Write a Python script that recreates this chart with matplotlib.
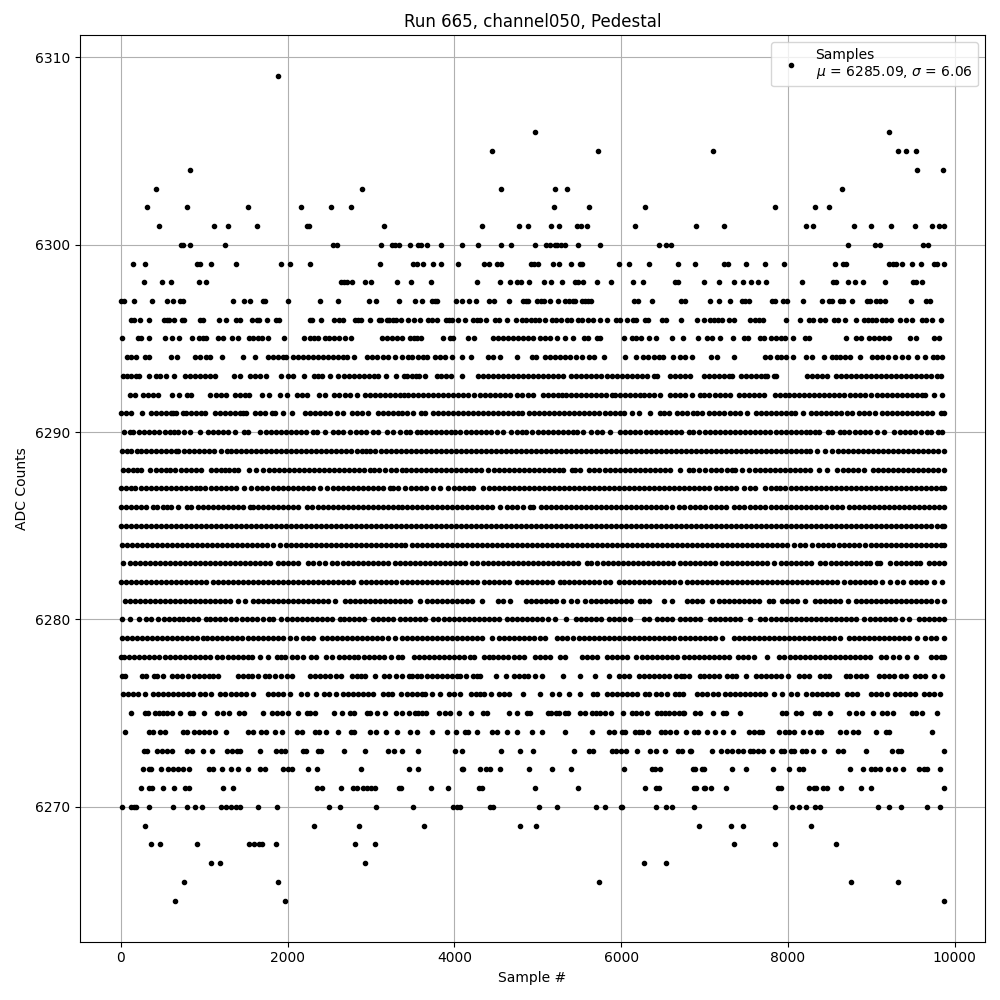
import matplotlib
matplotlib.use('Agg')
import matplotlib.pyplot as plt

# Sample numbers, one list per ADC level.
# Where dots merge into a solid stretch they can't be told apart, so those
# values are estimates placed about every 60 samples along the stretch.
x_6309 = [1888]
x_6306 = [4972, 9208]
x_6305 = [4456, 5728, 7096, 9316, 9412, 9532]
x_6304 = [832, 9544, 9856]
x_6303 = [424, 2896, 4564, 5212, 5356, 8644]
x_6302 = [316, 796, 1528, 2164, 2524, 2764, 5200, 5620, 6280, 7840, 8320, 8488]
x_6301 = [460, 1120, 1288, 1636, 2228, 2260, 3160, 4336, 4780, 4888, 5164, 5260, 5476, 5524, 5596, 6160, 6892, 7228,
          8212, 8296, 8788, 8992, 9232, 9520, 9724, 9808, 9868]
x_6300 = [724, 748, 832, 1252, 2548, 2588, 3124, 3248, 3288, 3340, 3472, 3568, 3596, 3676, 3844, 4096, 4288, 4564,
          4684, 4972, 5104, 5148, 5212, 5236, 5284, 5332, 5488, 5752, 6448, 6532, 6592, 8716, 9040, 9100, 9616, 9676]
x_6299 = [148, 292, 916, 948, 1084, 1384, 1924, 2032, 2272, 3112, 3508, 3556, 3628, 3748, 3844, 4048, 4360, 4420,
          4516, 4564, 4924, 4960, 5008, 5188, 5260, 5404, 5512, 5536, 5968, 6088, 6328, 6676, 6880, 7228, 7276, 7492,
          7720, 7948, 8560, 8656, 8692, 9208, 9256, 9292, 9364, 9484, 9592, 9748, 9784, 9868]
x_6298 = [280, 496, 604, 940, 1024, 2644, 2680, 2716, 2776, 2932, 3004, 3316, 3484, 3724, 4276, 4552, 4672, 4756,
          4804, 4900, 5080, 5164, 5296, 5452, 5488, 5548, 5716, 5872, 6136, 6256, 6640, 6676, 6988, 7168, 7348, 7456,
          7552, 7636, 7732, 8164, 8536, 8572, 8716, 8800, 8896, 9160, 9496, 9532, 9604]
x_6297 = [8, 44, 160, 376, 556, 628, 712, 748, 1348, 1480, 1552, 1708, 1736, 2008, 2392, 2608, 2980, 3064, 3340,
          3532, 3616, 3736, 3772, 3796, 4024, 4096, 4180, 4264, 4420, 4480, 4660, 4828, 4864, 4888, 4996, 5044, 5080,
          5152, 5248, 5332, 5380, 5428, 5452, 5536, 5572, 5608, 5644, 6148, 6196, 6364, 6712, 6760, 7060, 7168, 7300,
          7444, 7480, 7528, 7804, 7840, 7936, 7984, 8176, 8404, 8488, 8524, 8620, 8656, 8764, 8944, 8980, 9052, 9100,
          9160, 9472, 9652, 9700]
x_6296 = [128, 156, 232, 340, 520, 556, 580, 640, 736, 756, 952, 988, 1180, 1264, 1384, 1432, 1576, 1636, 1660, 1756,
          1864, 1900, 2272, 2296, 2404, 2560, 2620, 2668, 2812, 2848, 2884, 2992, 3100, 3124, 3196, 3220, 3268, 3300,
          3364, 3448, 3520, 3592, 3688, 3736, 3796, 3904, 3940, 3976, 4048, 4132, 4228, 4276, 4312, 4384, 4492, 4540,
          4636, 4744, 4816, 4864, 4924, 4972, 5020, 5092, 5176, 5224, 5284, 5356, 5404, 5488, 5536, 5608, 5668, 5752,
          5828, 5932, 5980, 6064, 6136, 6172, 6280, 6316, 6484, 6532, 6712, 6904, 6988, 7060, 7108, 7156, 7204, 7288,
          7348, 7540, 7600, 7648, 7696, 7972, 8140, 8248, 8296, 8380, 8440, 8548, 8596, 8680, 8812, 8908, 8956, 9004,
          9052, 9124, 9172, 9232, 9340, 9412, 9484, 9604, 9652, 9724, 9832]
x_6295 = [16, 212, 248, 340, 532, 616, 700, 860, 940, 988, 1028, 1168, 1228, 1336, 1408, 1540, 1588, 1648, 1696, 1768,
          1960, 2200, 2268, 2316, 2368, 2448, 2500, 2556, 2620, 2692, 2756, 3128, 3188, 3248, 3308, 3376, 3468, 3520,
          3556, 3604, 3868, 3948, 3988, 4168, 4240, 4468, 4528, 4588, 4648, 4708, 4768, 4828, 4888, 4940, 5028, 5088,
          5148, 5228, 5332, 5428, 5560, 5608, 5708, 5748, 6028, 6128, 6180, 6236, 6328, 6412, 6604, 6736, 6916, 7028,
          7084, 7188, 7336, 7468, 7520, 7660, 7708, 7796, 7856, 7916, 7968, 8056, 8200, 8248, 8692, 8820, 8876, 8968,
          9028, 9088, 9148, 9208, 9460, 9532, 9748, 9808]
x_6294 = [76, 128, 188, 288, 340, 604, 680, 896, 956, 1028, 1068, 1216, 1468, 1612, 1768, 1828, 1888, 1948, 1980,
          2068, 2128, 2188, 2248, 2308, 2368, 2428, 2488, 2548, 2608, 2668, 2716, 2800, 2948, 3008, 3068, 3148, 3208,
          3292, 3376, 3448, 3496, 3568, 3628, 3668, 3772, 3828, 3888, 3976, 4096, 4204, 4408, 4468, 4548, 4756, 4936,
          4984, 5092, 5148, 5208, 5268, 5328, 5388, 5460, 5528, 5620, 5680, 5796, 6048, 6172, 6256, 6316, 6388, 6448,
          6496, 6616, 6708, 6768, 6852, 7072, 7148, 7348, 7720, 7780, 7868, 7920, 7972, 8056, 8212, 8284, 8428, 8524,
          8572, 8628, 8688, 8748, 8860, 9004, 9068, 9132, 9196, 9280, 9364, 9436, 9548, 9648, 9736, 9788, 9840]
x_6293 = [28, 76, 128, 188, 220, 340, 424, 476, 548, 636, 772, 832, 892, 952, 1012, 1072, 1132, 1360, 1432, 1552, 1612,
          1672, 1748, 1924, 2008, 2068, 2200, 2320, 2368, 2416, 2512, 2608, 2680, 2740, 2800, 2860, 2920, 2980, 3040,
          3088, 3184, 3304, 3400, 3436, 3488, 3536, 3580, 3652, 3788, 3836, 3896, 3956, 4096, 4288, 4348, 4408, 4468,
          4528, 4588, 4648, 4708, 4768, 4828, 4888, 4948, 5008, 5068, 5128, 5188, 5248, 5308, 5404, 5464, 5524, 5584,
          5644, 5704, 5764, 5824, 5884, 5944, 6004, 6064, 6124, 6184, 6244, 6304, 6396, 6428, 6580, 6640, 6700, 6760,
          6820, 6988, 7048, 7108, 7168, 7228, 7288, 7328, 7440, 7500, 7560, 7620, 7680, 7728, 7748, 7828, 7860, 8228,
          8288, 8348, 8408, 8468, 8580, 8640, 8700, 8760, 8820, 8880, 8940, 9000, 9060, 9120, 9180, 9240, 9300, 9360,
          9420, 9480, 9540, 9600, 9660, 9720, 9780, 9828]
x_6292 = [116, 168, 268, 328, 388, 448, 616, 700, 796, 848, 1068, 1148, 1208, 1268, 1368, 1428, 1488, 1540, 1692, 1780,
          1912, 1996, 2108, 2168, 2228, 2380, 2448, 2556, 2620, 2688, 2748, 2828, 2928, 2988, 3048, 3108, 3168, 3228,
          3288, 3348, 3400, 3448, 3508, 3568, 3628, 3688, 3748, 3808, 3868, 3928, 3988, 4048, 4108, 4168, 4236, 4308,
          4368, 4428, 4488, 4548, 4608, 4668, 4748, 4808, 4880, 4948, 5060, 5120, 5180, 5240, 5296, 5336, 5396, 5456,
          5516, 5576, 5636, 5696, 5756, 5816, 5888, 5928, 5988, 6048, 6108, 6168, 6228, 6268, 6328, 6388, 6468, 6588,
          6648, 6708, 6768, 6848, 6948, 6988, 7048, 7128, 7188, 7248, 7300, 7408, 7468, 7528, 7588, 7648, 7708, 7848,
          7908, 7968, 8008, 8068, 8128, 8188, 8248, 8308, 8368, 8428, 8488, 8548, 8608, 8668, 8748, 8808, 8868, 8928,
          8996, 9068, 9128, 9188, 9248, 9308, 9368, 9428, 9488, 9548, 9608, 9648, 9748, 9840]
x_6291 = [8, 68, 128, 252, 360, 420, 480, 540, 600, 628, 668, 748, 788, 848, 908, 968, 1008, 1128, 1188, 1248, 1308,
          1368, 1428, 1468, 1500, 1608, 1668, 1728, 1808, 1848, 1940, 2056, 2208, 2268, 2328, 2388, 2448, 2508, 2588,
          2660, 2768, 2828, 2888, 2968, 3088, 3148, 3208, 3268, 3328, 3368, 3428, 3508, 3596, 3652, 3748, 3808, 3868,
          3928, 3988, 4048, 4108, 4168, 4228, 4288, 4348, 4408, 4468, 4528, 4588, 4648, 4708, 4768, 4808, 4900, 4960,
          5020, 5080, 5140, 5200, 5260, 5320, 5380, 5440, 5500, 5560, 5620, 5680, 5740, 5800, 5860, 5920, 5980, 6028,
          6128, 6208, 6348, 6460, 6508, 6576, 6668, 6728, 6788, 6860, 6908, 6968, 7048, 7108, 7168, 7228, 7308, 7368,
          7428, 7508, 7620, 7680, 7740, 7800, 7860, 7920, 7980, 8040, 8088, 8176, 8276, 8336, 8396, 8456, 8516, 8576,
          8636, 8708, 8764, 8848, 8908, 8968, 9048, 9132, 9192, 9252, 9312, 9372, 9432, 9492, 9552, 9612, 9672, 9728,
          9828, 9868]
x_6290 = [40, 108, 148, 220, 280, 340, 400, 460, 528, 588, 640, 688, 756, 828, 956, 1048, 1108, 1168, 1228, 1288, 1368,
          1480, 1528, 1668, 1740, 1800, 1860, 1920, 1980, 2040, 2100, 2160, 2220, 2308, 2356, 2448, 2540, 2600, 2668,
          2748, 2820, 2880, 2940, 3028, 3088, 3188, 3268, 3348, 3420, 3468, 3548, 3600, 3660, 3720, 3780, 3840, 3900,
          3960, 4008, 4068, 4140, 4200, 4260, 4320, 4380, 4440, 4508, 4580, 4680, 4748, 4808, 4860, 4936, 5000, 5060,
          5120, 5180, 5240, 5300, 5360, 5420, 5468, 5548, 5640, 5708, 5768, 5868, 5988, 6048, 6108, 6168, 6228, 6300,
          6360, 6420, 6480, 6540, 6600, 6660, 6720, 6808, 6860, 6928, 7000, 7060, 7120, 7180, 7240, 7300, 7360, 7420,
          7480, 7540, 7600, 7668, 7728, 7788, 7860, 7920, 7980, 8040, 8100, 8160, 8220, 8268, 8328, 8368, 8476, 8528,
          8628, 8668, 8728, 8800, 8860, 8920, 8988, 9068, 9148, 9268, 9340, 9408, 9460, 9528, 9600, 9668, 9716, 9796, 9848]
x_6289 = [16, 76, 128, 196, 240, 300, 360, 420, 480, 540, 600, 660, 688, 756, 820, 880, 940, 1000, 1060, 1120, 1208,
          1276, 1320, 1380, 1440, 1500, 1560, 1620, 1680, 1740, 1800, 1860, 1920, 1980, 2040, 2100, 2160, 2220, 2280,
          2340, 2400, 2460, 2520, 2580, 2640, 2700, 2760, 2828, 2888, 2940, 2988, 3048, 3120, 3180, 3240, 3300, 3360,
          3420, 3480, 3540, 3600, 3660, 3720, 3780, 3840, 3900, 3960, 4020, 4080, 4140, 4200, 4260, 4320, 4380, 4440,
          4500, 4560, 4620, 4680, 4740, 4800, 4860, 4920, 4980, 5040, 5100, 5160, 5220, 5280, 5340, 5400, 5460, 5520,
          5580, 5640, 5700, 5760, 5820, 5880, 5940, 6000, 6060, 6120, 6180, 6240, 6300, 6360, 6420, 6480, 6540, 6600,
          6660, 6720, 6780, 6840, 6900, 6960, 7020, 7080, 7140, 7200, 7260, 7320, 7380, 7440, 7500, 7560, 7620, 7680,
          7740, 7800, 7860, 7920, 7980, 8040, 8100, 8160, 8220, 8268, 8348, 8448, 8528, 8596, 8660, 8720, 8780, 8840,
          8900, 8960, 9020, 9080, 9140, 9200, 9260, 9320, 9380, 9440, 9500, 9560, 9620, 9680, 9740, 9800, 9868]
x_6288 = [28, 88, 148, 200, 248, 356, 420, 480, 540, 588, 648, 720, 780, 840, 900, 968, 1088, 1140, 1200, 1248, 1300,
          1360, 1408, 1540, 1628, 1708, 1780, 1840, 1900, 1960, 2020, 2080, 2140, 2200, 2260, 2320, 2380, 2440, 2500,
          2560, 2620, 2680, 2740, 2800, 2860, 2920, 2988, 3036, 3100, 3168, 3240, 3300, 3368, 3420, 3480, 3540, 3600,
          3660, 3720, 3780, 3840, 3900, 3960, 4020, 4080, 4140, 4200, 4260, 4320, 4408, 4480, 4540, 4600, 4660, 4720,
          4780, 4840, 4900, 4960, 5020, 5080, 5140, 5200, 5260, 5308, 5408, 5448, 5512, 5620, 5680, 5740, 5800, 5860,
          5920, 5980, 6040, 6100, 6160, 6220, 6280, 6340, 6400, 6460, 6520, 6580, 6700, 6808, 6860, 6928, 7008, 7080,
          7140, 7200, 7268, 7328, 7368, 7448, 7528, 7600, 7660, 7720, 7780, 7840, 7900, 7960, 8020, 8080, 8140, 8200,
          8268, 8368, 8468, 8588, 8660, 8720, 8780, 8840, 8908, 9016, 9080, 9140, 9200, 9260, 9320, 9380, 9440, 9500,
          9560, 9620, 9680, 9740, 9800, 9868]
x_6287 = [8, 68, 128, 168, 240, 300, 360, 420, 480, 540, 600, 660, 720, 780, 840, 900, 948, 1008, 1080, 1140, 1200,
          1260, 1320, 1380, 1480, 1568, 1640, 1700, 1760, 1820, 1880, 1940, 2000, 2060, 2120, 2180, 2240, 2300, 2388,
          2476, 2540, 2600, 2660, 2720, 2780, 2840, 2900, 2960, 3020, 3080, 3140, 3228, 3268, 3328, 3408, 3480, 3540,
          3600, 3660, 3748, 3828, 3928, 3990, 4050, 4110, 4170, 4228, 4348, 4410, 4470, 4530, 4590, 4650, 4710, 4770,
          4830, 4890, 4950, 5010, 5070, 5130, 5190, 5250, 5310, 5370, 5430, 5490, 5550, 5610, 5670, 5730, 5790, 5850,
          5910, 5970, 6030, 6090, 6150, 6210, 6270, 6330, 6390, 6450, 6510, 6570, 6630, 6690, 6750, 6810, 6870, 6930,
          6990, 7048, 7140, 7200, 7260, 7320, 7380, 7468, 7540, 7608, 7728, 7790, 7850, 7908, 7968, 8030, 8090, 8150,
          8210, 8270, 8330, 8390, 8450, 8510, 8570, 8630, 8690, 8750, 8810, 8870, 8930, 8990, 9050, 9110, 9170, 9230,
          9290, 9350, 9410, 9470, 9530, 9590, 9650, 9710, 9770, 9830, 9868]
x_6286 = [8, 68, 128, 188, 248, 308, 388, 436, 508, 560, 608, 688, 796, 848, 928, 990, 1050, 1110, 1170, 1230, 1290,
          1350, 1410, 1470, 1548, 1588, 1650, 1710, 1770, 1830, 1890, 1950, 2010, 2070, 2130, 2228, 2296, 2360, 2420,
          2480, 2540, 2600, 2660, 2720, 2780, 2840, 2900, 2960, 3020, 3080, 3140, 3200, 3260, 3320, 3368, 3430, 3490,
          3550, 3610, 3670, 3730, 3790, 3850, 3910, 3970, 4030, 4090, 4150, 4210, 4270, 4330, 4390, 4450, 4548, 4628,
          4690, 4750, 4828, 4908, 4948, 5036, 5100, 5160, 5220, 5280, 5340, 5400, 5460, 5520, 5580, 5640, 5700, 5760,
          5820, 5880, 5940, 6000, 6060, 6120, 6180, 6240, 6300, 6360, 6420, 6480, 6540, 6608, 6688, 6748, 6828, 6890,
          6950, 7008, 7080, 7140, 7200, 7260, 7348, 7408, 7468, 7548, 7610, 7670, 7730, 7790, 7850, 7910, 7970, 8030,
          8090, 8150, 8210, 8270, 8330, 8390, 8450, 8528, 8588, 8650, 8728, 8788, 8850, 8910, 8970, 9030, 9090, 9150,
          9210, 9270, 9330, 9390, 9450, 9510, 9570, 9630, 9690, 9750, 9810, 9868]
x_6285 = [0, 60, 120, 180, 240, 300, 360, 420, 480, 540, 600, 660, 720, 780, 840, 900, 960, 1020, 1080, 1140, 1200,
          1260, 1320, 1380, 1440, 1500, 1560, 1620, 1680, 1740, 1800, 1860, 1920, 1980, 2040, 2100, 2160, 2220, 2280,
          2340, 2400, 2460, 2520, 2580, 2640, 2700, 2760, 2820, 2880, 2940, 3000, 3060, 3120, 3180, 3240, 3300, 3360,
          3420, 3480, 3540, 3600, 3660, 3720, 3780, 3840, 3900, 3960, 4020, 4080, 4140, 4200, 4260, 4320, 4380, 4440,
          4500, 4560, 4620, 4680, 4740, 4800, 4860, 4920, 4980, 5040, 5100, 5160, 5220, 5280, 5340, 5400, 5460, 5520,
          5580, 5640, 5700, 5760, 5820, 5880, 5940, 6000, 6060, 6120, 6180, 6240, 6300, 6360, 6420, 6480, 6540, 6600,
          6660, 6720, 6780, 6840, 6900, 6960, 7020, 7080, 7140, 7200, 7260, 7320, 7380, 7440, 7500, 7560, 7620, 7680,
          7740, 7800, 7860, 7920, 7980, 8040, 8100, 8160, 8220, 8280, 8340, 8400, 8460, 8520, 8580, 8640, 8700, 8760,
          8820, 8880, 8940, 9000, 9060, 9120, 9180, 9240, 9300, 9360, 9420, 9480, 9540, 9600, 9660, 9720, 9780, 9840, 9868]
x_6284 = [16, 76, 136, 196, 256, 316, 376, 436, 496, 556, 616, 676, 736, 796, 856, 916, 976, 1036, 1096, 1156, 1216,
          1276, 1336, 1396, 1456, 1516, 1576, 1636, 1696, 1756, 1828, 1908, 1980, 2040, 2100, 2160, 2220, 2280, 2340,
          2400, 2460, 2520, 2580, 2640, 2700, 2760, 2820, 2880, 2940, 3000, 3060, 3120, 3180, 3240, 3300, 3360, 3408,
          3488, 3550, 3610, 3670, 3730, 3790, 3850, 3910, 3970, 4030, 4090, 4150, 4210, 4270, 4330, 4390, 4450, 4510,
          4570, 4630, 4690, 4750, 4810, 4870, 4930, 4990, 5050, 5110, 5170, 5230, 5290, 5350, 5410, 5470, 5530, 5590,
          5650, 5710, 5770, 5830, 5890, 5950, 6010, 6070, 6130, 6190, 6250, 6310, 6370, 6430, 6490, 6550, 6610, 6670,
          6730, 6790, 6850, 6910, 6970, 7030, 7090, 7150, 7210, 7270, 7330, 7390, 7450, 7510, 7570, 7630, 7690, 7750,
          7810, 7870, 7930, 7990, 8068, 8140, 8200, 8288, 8356, 8420, 8480, 8540, 8608, 8676, 8728, 8788, 8848, 8928,
          8990, 9050, 9110, 9170, 9230, 9290, 9350, 9410, 9470, 9530, 9590, 9650, 9710, 9770, 9830, 9868]
x_6283 = [28, 108, 170, 230, 290, 350, 410, 470, 530, 590, 650, 710, 770, 830, 890, 950, 1010, 1070, 1130, 1190, 1250,
          1310, 1370, 1430, 1490, 1550, 1610, 1670, 1730, 1790, 1888, 1948, 2010, 2070, 2130, 2248, 2308, 2380, 2450,
          2528, 2596, 2660, 2720, 2780, 2840, 2900, 2960, 3020, 3080, 3140, 3200, 3288, 3348, 3410, 3470, 3530, 3590,
          3650, 3708, 3768, 3830, 3890, 3950, 4010, 4070, 4130, 4208, 4276, 4340, 4400, 4460, 4520, 4580, 4640, 4700,
          4760, 4820, 4880, 4940, 5000, 5060, 5120, 5180, 5240, 5300, 5360, 5420, 5488, 5596, 5636, 5716, 5780, 5840,
          5900, 5960, 6020, 6080, 6140, 6200, 6260, 6320, 6380, 6440, 6500, 6560, 6620, 6708, 6770, 6830, 6890, 6950,
          7010, 7070, 7130, 7208, 7268, 7330, 7390, 7450, 7510, 7570, 7630, 7690, 7750, 7828, 7916, 7980, 8040, 8100,
          8160, 8220, 8280, 8388, 8448, 8510, 8570, 8630, 8690, 8750, 8810, 8870, 8930, 8988, 9068, 9108, 9228, 9300,
          9360, 9420, 9480, 9540, 9588, 9688, 9750, 9810, 9868]
x_6282 = [8, 68, 128, 188, 248, 308, 368, 428, 488, 548, 608, 668, 728, 788, 848, 908, 968, 1028, 1108, 1170, 1230,
          1290, 1350, 1410, 1470, 1530, 1590, 1650, 1710, 1770, 1830, 1890, 1950, 2010, 2070, 2130, 2190, 2250, 2310,
          2370, 2430, 2490, 2550, 2610, 2670, 2730, 2788, 2876, 2940, 3000, 3060, 3120, 3180, 3240, 3300, 3368, 3430,
          3490, 3550, 3610, 3670, 3730, 3790, 3850, 3910, 3970, 4030, 4090, 4150, 4210, 4268, 4360, 4420, 4480, 4540,
          4600, 4660, 4748, 4808, 4870, 4930, 4990, 5050, 5110, 5170, 5268, 5316, 5380, 5440, 5500, 5560, 5620, 5680,
          5740, 5800, 5868, 5968, 6030, 6090, 6150, 6210, 6270, 6330, 6390, 6450, 6510, 6570, 6630, 6708, 6788, 6848,
          6910, 6970, 7030, 7090, 7150, 7210, 7270, 7330, 7390, 7450, 7510, 7570, 7630, 7690, 7750, 7810, 7870, 7930,
          7990, 8050, 8110, 8170, 8230, 8290, 8350, 8410, 8470, 8530, 8590, 8668, 8740, 8800, 8860, 8920, 8980, 9040,
          9128, 9220, 9308, 9380, 9476, 9540, 9600, 9660, 9748, 9848]
x_6281 = [48, 110, 170, 230, 290, 350, 410, 470, 530, 590, 650, 710, 770, 830, 890, 950, 1010, 1070, 1130, 1190, 1250,
          1310, 1408, 1492, 1588, 1650, 1710, 1770, 1830, 1890, 1950, 2010, 2070, 2130, 2190, 2250, 2310, 2370, 2430,
          2490, 2568, 2688, 2750, 2810, 2870, 2930, 2990, 3050, 3110, 3170, 3230, 3290, 3348, 3410, 3470, 3588, 3668,
          3730, 3790, 3850, 3910, 3970, 4030, 4090, 4150, 4210, 4328, 4528, 4588, 4672, 4860, 4920, 4980, 5040, 5100,
          5160, 5220, 5308, 5404, 5470, 5568, 5636, 5700, 5760, 5820, 5880, 5940, 6000, 6060, 6120, 6228, 6268, 6328,
          6508, 6608, 6788, 6850, 6910, 6970, 7088, 7168, 7230, 7290, 7350, 7410, 7470, 7530, 7590, 7650, 7768, 7820,
          7928, 7988, 8050, 8110, 8208, 8320, 8380, 8440, 8500, 8560, 8628, 8716, 8820, 8880, 8940, 9000, 9060, 9120,
          9180, 9240, 9300, 9360, 9420, 9480, 9540, 9600, 9660, 9720, 9780, 9868]
x_6280 = [20, 108, 220, 300, 360, 448, 516, 580, 640, 700, 748, 808, 870, 930, 1028, 1068, 1128, 1190, 1250, 1328, 1388,
          1450, 1510, 1570, 1630, 1708, 1780, 1828, 1924, 1990, 2050, 2110, 2170, 2230, 2290, 2350, 2410, 2470, 2530,
          2628, 2680, 2740, 2800, 2860, 2920, 3028, 3088, 3150, 3210, 3270, 3348, 3410, 3470, 3530, 3590, 3650, 3748,
          3808, 3870, 3930, 3990, 4050, 4110, 4170, 4230, 4290, 4350, 4410, 4470, 4530, 4628, 4688, 4750, 4810, 4870,
          4930, 4990, 5050, 5128, 5212, 5344, 5460, 5520, 5580, 5640, 5700, 5760, 5848, 5908, 5970, 6030, 6108, 6268,
          6328, 6428, 6490, 6550, 6610, 6708, 6770, 6830, 6890, 6950, 7068, 7128, 7190, 7250, 7310, 7370, 7430, 7548,
          7668, 7730, 7790, 7850, 7910, 7970, 8030, 8090, 8150, 8210, 8270, 8330, 8390, 8450, 8510, 8570, 8630, 8690,
          8750, 8810, 8908, 8980, 9040, 9100, 9160, 9220, 9280, 9368, 9448, 9568, 9630, 9690, 9750, 9808, 9868]
x_6279 = [16, 80, 140, 200, 260, 320, 380, 440, 500, 560, 620, 680, 740, 800, 860, 920, 988, 1036, 1100, 1160, 1220,
          1280, 1340, 1400, 1460, 1528, 1588, 1650, 1710, 1770, 1830, 1890, 1950, 2028, 2100, 2188, 2250, 2310, 2408,
          2468, 2530, 2590, 2650, 2710, 2770, 2830, 2890, 2950, 3010, 3070, 3128, 3208, 3288, 3368, 3430, 3490, 3550,
          3610, 3670, 3730, 3790, 3850, 3910, 3970, 4030, 4090, 4150, 4210, 4270, 4330, 4448, 4540, 4600, 4660, 4720,
          4780, 4840, 4900, 4960, 5028, 5092, 5228, 5288, 5348, 5428, 5490, 5550, 5610, 5670, 5730, 5790, 5850, 5910,
          5970, 6030, 6090, 6150, 6210, 6270, 6330, 6390, 6450, 6510, 6570, 6630, 6708, 6770, 6830, 6890, 6950, 7010,
          7070, 7130, 7208, 7348, 7410, 7470, 7530, 7590, 7650, 7710, 7770, 7830, 7890, 7950, 8010, 8070, 8130, 8190,
          8250, 8310, 8370, 8430, 8490, 8550, 8628, 8728, 8790, 8850, 8910, 8970, 9030, 9090, 9150, 9210, 9270, 9330,
          9390, 9450, 9548, 9648, 9710, 9770, 9868]
x_6278 = [4, 40, 100, 160, 220, 280, 340, 400, 460, 532, 592, 652, 712, 772, 832, 892, 952, 1012, 1072, 1156, 1216,
          1288, 1348, 1408, 1468, 1528, 1576, 1672, 1768, 1876, 1924, 1972, 2056, 2116, 2188, 2284, 2344, 2464, 2536,
          2620, 2680, 2740, 2800, 2848, 2920, 2980, 3040, 3100, 3160, 3244, 3328, 3376, 3520, 3580, 3640, 3700, 3760,
          3820, 3880, 3940, 4000, 4060, 4120, 4192, 4240, 4360, 4420, 4468, 4528, 4588, 4648, 4720, 4780, 4840, 4972,
          5032, 5092, 5152, 5272, 5332, 5536, 5596, 5656, 5716, 5824, 5884, 5944, 6004, 6064, 6172, 6244, 6304, 6364,
          6424, 6484, 6544, 6604, 6664, 6748, 6808, 6868, 6928, 6988, 7048, 7108, 7168, 7228, 7288, 7396, 7456, 7516,
          7588, 7744, 7888, 7948, 8020, 8080, 8140, 8200, 8260, 8320, 8380, 8440, 8500, 8560, 8620, 8680, 8740, 8800,
          8860, 8920, 8980, 9112, 9172, 9256, 9328, 9424, 9532, 9712, 9772, 9832, 9868]
x_6277 = [16, 52, 256, 304, 400, 436, 508, 616, 676, 736, 808, 880, 940, 1000, 1060, 1108, 1168, 1408, 1468, 1528, 1576,
          1648, 1732, 1780, 1852, 1924, 1996, 2056, 2272, 2332, 2392, 2452, 2512, 2584, 2644, 2776, 2836, 2884, 2932,
          3052, 3160, 3220, 3304, 3376, 3460, 3496, 3556, 3604, 3676, 3736, 3796, 3856, 3916, 3976, 4036, 4068, 4144,
          4228, 4276, 4312, 4504, 4624, 4720, 4780, 4840, 4888, 4972, 5056, 5308, 5512, 5692, 5848, 5968, 6028, 6092,
          6208, 6268, 6328, 6388, 6448, 6508, 6568, 6652, 6712, 6748, 6808, 6940, 6988, 7048, 7108, 7168, 7264, 7324,
          7372, 7492, 7612, 7672, 7732, 7792, 7852, 7912, 7996, 8128, 8188, 8248, 8380, 8440, 8488, 8692, 8740, 8812,
          8872, 8932, 9088, 9148, 9208, 9268, 9352, 9412, 9520, 9580, 9640, 9748, 9844]
x_6276 = [28, 88, 148, 208, 292, 388, 448, 508, 568, 628, 688, 748, 808, 868, 952, 1012, 1084, 1192, 1252, 1324, 1384,
          1444, 1504, 1584, 1768, 1828, 1888, 1948, 2032, 2164, 2236, 2336, 2440, 2500, 2584, 2668, 2728, 2788, 2848,
          2908, 2968, 3028, 3148, 3208, 3256, 3364, 3428, 3488, 3548, 3608, 3652, 3736, 3832, 3940, 4000, 4072, 4204,
          4264, 4312, 4360, 4444, 4540, 4600, 4660, 4828, 5032, 5176, 5260, 5380, 5512, 5668, 5716, 5824, 5884, 5944,
          6004, 6064, 6124, 6184, 6280, 6328, 6412, 6472, 6544, 6640, 6688, 6736, 6904, 6964, 7024, 7096, 7156, 7240,
          7300, 7360, 7420, 7480, 7540, 7600, 7660, 7720, 7828, 7924, 8032, 8104, 8212, 8284, 8344, 8404, 8464, 8524,
          8584, 8704, 8764, 8824, 8992, 9052, 9112, 9184, 9280, 9340, 9400, 9460, 9520, 9628, 9688, 9748, 9820]
x_6275 = [124, 292, 328, 412, 460, 508, 556, 616, 712, 832, 868, 996, 1156, 1228, 1300, 1420, 1480, 1708, 1816, 1876,
          1936, 2008, 2128, 2236, 2272, 2332, 2560, 2656, 2752, 2800, 2956, 2992, 3076, 3172, 3304, 3376, 3460, 3532,
          3568, 3616, 3664, 3820, 3892, 3952, 4060, 4204, 4348, 4396, 4660, 4756, 4876, 4912, 5128, 5164, 5224, 5260,
          5332, 5368, 5512, 5572, 5656, 5704, 5752, 5800, 5872, 6016, 6124, 6172, 6232, 6304, 6424, 6472, 6520, 6568,
          6628, 6688, 6748, 6736, 6880, 6940, 7096, 7216, 7252, 7420, 7924, 7972, 8092, 8152, 8320, 8368, 8508, 8728,
          8812, 8884, 9016, 9124, 9184, 9256, 9484, 9532, 9604, 9784]
x_6274 = [52, 340, 388, 472, 532, 748, 796, 880, 940, 1000, 1060, 1132, 1264, 1528, 1588, 1684, 1744, 1852, 1936, 2116,
          2176, 2332, 2380, 2464, 2608, 2764, 2800, 2992, 3064, 3184, 3316, 3464, 3556, 3736, 3916, 4024, 4132, 4168,
          4276, 4456, 4516, 4636, 4756, 4936, 5056, 5332, 5656, 5848, 5908, 6004, 6040, 6160, 6208, 6244, 6316, 6472,
          6520, 6580, 6652, 6772, 6868, 6916, 7024, 7124, 7216, 7336, 7528, 7588, 7648, 7684, 7888, 7960, 8008, 8068,
          8176, 8260, 8344, 8392, 8620, 8692, 8776, 8836, 9052, 9172, 9208, 9724]
x_6273 = [280, 316, 436, 496, 556, 616, 796, 856, 988, 1096, 1276, 1336, 1396, 1432, 1668, 1864, 1924, 1972, 2188, 2224,
          2368, 2404, 2680, 2932, 3208, 3280, 3376, 3568, 4012, 4096, 4564, 4792, 4948, 5440, 5620, 5668, 5884, 5932,
          5992, 6052, 6184, 6340, 6412, 6520, 6676, 6724, 6820, 6832, 7084, 7192, 7264, 7324, 7396, 7456, 7540, 7576,
          7636, 7696, 7804, 7912, 7948, 8032, 8068, 8164, 8212, 8296, 8428, 8596, 8656, 8932, 9244, 9316, 9352, 9868]
x_6272 = [268, 340, 364, 484, 568, 628, 688, 748, 820, 1060, 1108, 1216, 1324, 1408, 1528, 1672, 1732, 1948, 2008, 2056,
          2248, 2356, 2884, 3460, 3568, 4096, 4108, 4312, 4384, 4432, 4552, 4900, 5176, 5404, 6028, 6364, 6400, 6460,
          6860, 6880, 6964, 6988, 7324, 7492, 7816, 8008, 8128, 8176, 8740, 8896, 8992, 9040, 9100, 9196, 9280, 9376,
          9568, 9628, 9664, 9820]
x_6271 = [244, 340, 376, 508, 640, 772, 820, 1228, 1348, 2356, 2416, 2644, 2788, 2836, 2908, 2956, 3004, 3052, 3340,
          3364, 3724, 3928, 4300, 4336, 4972, 5488, 6280, 6412, 6448, 6868, 6892, 6988, 7000, 7072, 7252, 7876, 7912,
          8248, 8308, 8332, 8416, 8464, 8632, 8872, 8992, 9868]
x_6270 = [16, 124, 164, 188, 340, 628, 796, 892, 976, 1204, 1264, 1324, 1384, 1432, 1648, 1876, 2500, 2632, 3064, 3508,
          3988, 4036, 4072, 4432, 4468, 5020, 5236, 5704, 5800, 5992, 6004, 6412, 6532, 6604, 6868, 7840, 8044, 8128,
          8212, 8320, 8380, 9076, 9208, 9352, 9664, 9820]
x_6269 = [292, 2320, 2860, 3640, 4792, 4984, 6928, 7312, 7456, 8272]
x_6268 = [364, 472, 916, 1540, 1600, 1660, 1700, 1864, 2812, 3052, 7348, 7840, 8572]
x_6267 = [1084, 1192, 2932, 6268, 6532]
x_6266 = [760, 1888, 5740, 8752, 9316]
x_6265 = [652, 1972, 9868]

levels = [6309, 6306, 6305, 6304, 6303, 6302, 6301, 6300, 6299, 6298, 6297, 6296, 6295, 6294, 6293, 6292, 6291, 6290,
          6289, 6288, 6287, 6286, 6285, 6284, 6283, 6282, 6281, 6280, 6279, 6278, 6277, 6276, 6275, 6274, 6273, 6272,
          6271, 6270, 6269, 6268, 6267, 6266, 6265]
samples = [x_6309, x_6306, x_6305, x_6304, x_6303, x_6302, x_6301, x_6300, x_6299, x_6298, x_6297, x_6296, x_6295,
           x_6294, x_6293, x_6292, x_6291, x_6290, x_6289, x_6288, x_6287, x_6286, x_6285, x_6284, x_6283, x_6282,
           x_6281, x_6280, x_6279, x_6278, x_6277, x_6276, x_6275, x_6274, x_6273, x_6272, x_6271, x_6270, x_6269,
           x_6268, x_6267, x_6266, x_6265]

xs = []
ys = []
for level, row in zip(levels, samples):
    xs += row
    ys += [level] * len(row)

fig, ax = plt.subplots(figsize=(10, 10))
ax.plot(xs, ys, 'k.', label='Samples\n$\\mu$ = 6285.09, $\\sigma$ = 6.06')
ax.set_title('Run 665, channel050, Pedestal')
ax.set_xlabel('Sample #')
ax.set_ylabel('ADC Counts')
ax.grid(True)
ax.legend(loc='upper right')
fig.tight_layout()
pos = ax.get_position()
ax.set_position([pos.x0, pos.y0, pos.width, 0.965 - pos.y0])
plt.savefig('out.png', dpi=100)
